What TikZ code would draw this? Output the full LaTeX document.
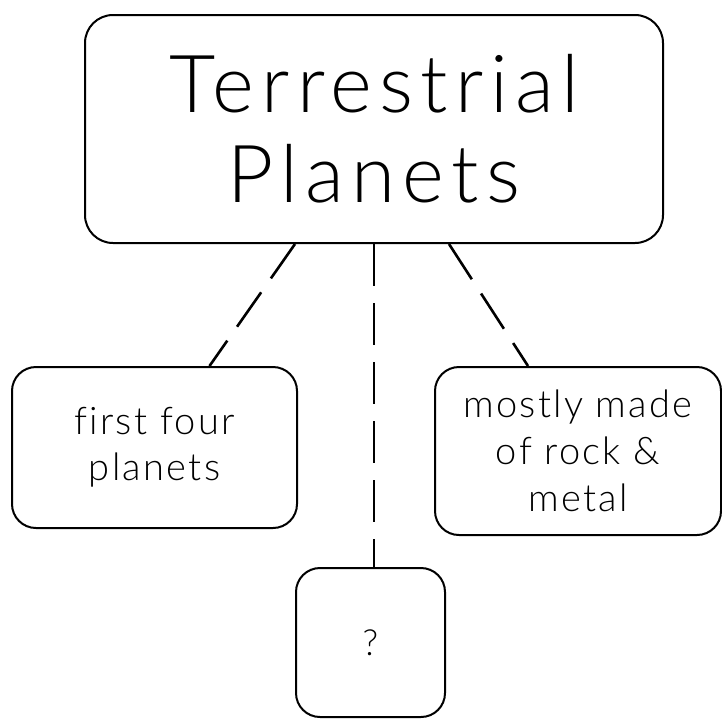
\documentclass[tikz,border=0pt]{standalone}
\usepackage{fontspec}
\setmainfont{Lato Light}[LetterSpace=6,Ligatures=NoCommon]
\usetikzlibrary{positioning,calc}

\begin{document}
\begin{tikzpicture}[
  x=1pt, y=-1pt,
  card/.style={rectangle, draw=black, line width=2pt, rounded corners=28pt,
               text centered, align=center, inner sep=0pt},
  link/.style={line width=2.6pt, dash pattern=on 42pt off 17pt},
  every node/.style={align=center}
]
\useasboundingbox (0,0) rectangle (722,721);
\node[card, minimum width=578pt, minimum height=228pt,
      font=\fontsize{80}{90}\selectfont\addfontfeatures{LetterSpace=9}](top) at (374,129){Terrestrial\\Planets};
\node[card, minimum width=285pt, minimum height=161pt, rounded corners=24pt,
      font=\fontsize{38}{46}\selectfont](first) at (154.5,447.5){first four\\planets};
\node[card, minimum width=286pt, minimum height=168pt, rounded corners=24pt,
      font=\fontsize{38}{47}\selectfont](rock) at (578,451){mostly made\\of rock \&\\metal};
\node[card, minimum width=149pt, minimum height=149pt, rounded corners=24pt,
      font=\fontsize{36}{42}\selectfont](ques) at (370.5,642.5){?};

\draw[link]([xshift=-79pt]top.south)--([xshift=55pt]first.north);
\draw[link](top.south)--(top.south |- ques.north);
\draw[link]([xshift=75pt]top.south)--([xshift=-50pt]rock.north);
\end{tikzpicture}
\end{document}
